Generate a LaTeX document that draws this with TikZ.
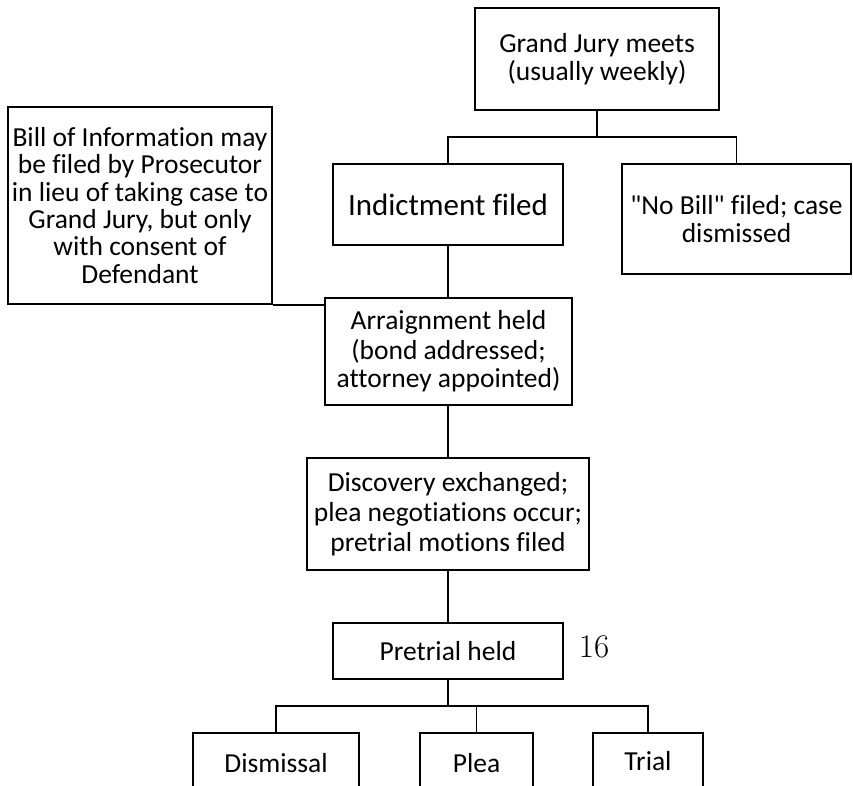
\documentclass[tikz,border=0pt]{standalone}
\usepackage{fontspec}
\newfontfamily\calib[Ligatures=CommonOff]{Carlito}
\usetikzlibrary{positioning,calc}

\begin{document}
\begin{tikzpicture}[x=1pt, y=-1pt,
  box/.style={draw, line width=1.6pt, align=center, inner sep=0pt, font=\calib\fontsize{27.5}{28}\selectfont},
  conn/.style={line width=1.6pt}]
\useasboundingbox (0,0) rectangle (853,786);
\clip (0,0) rectangle (853,786);

% Top: grand jury
\node[box, minimum width=244pt, minimum height=102pt] (gj) at (597,59) {Grand Jury meets\\(usually weekly)};

% Outcomes of grand jury
\node[box, minimum width=230pt, minimum height=81pt, font=\calib\fontsize{31}{34}\selectfont] (ind) at (448,204.5) {Indictment filed};
\node[box, minimum width=229pt, minimum height=110pt] (nobill) at (736.5,219) {"No Bill" filed; case\\dismissed};

% Side note
\node[box, minimum width=264pt, minimum height=197pt, font=\calib\fontsize{27.5}{27.3}\selectfont] (bill) at (140,205.5) {Bill of Information may\\be filed by Prosecutor\\in lieu of taking case to\\Grand Jury, but only\\with consent of\\Defendant};

% Main line
\node[box, minimum width=247pt, minimum height=107pt] (arr) at (448.5,351.5) {Arraignment held\\[2pt](bond addressed;\\attorney appointed)};
\node[box, minimum width=282pt, minimum height=112pt, font=\calib\fontsize{27.5}{30}\selectfont] (disc) at (448,514) {Discovery exchanged;\\plea negotiations occur;\\pretrial motions filed};
\node[box, minimum width=230pt, minimum height=56pt] (pre) at (448,651) {Pretrial held};
\node[font=\fontsize{33}{36}\selectfont] (pnum) at (594,647) {16};

% Bottom row
\node[box, minimum width=166pt, minimum height=60pt] (dis) at (276,763) {Dismissal};
\node[box, minimum width=113pt, minimum height=60pt] (plea) at (476.5,763) {Plea};
\node[box, minimum width=110pt, minimum height=56pt] (trial) at (648,761) {Trial};

% Connectors
\coordinate (gjfork) at (597,137);
\draw[conn] (gj.south) -- (gjfork);
\draw[conn] (ind.north) |- (gjfork) -| (nobill.north);
\draw[conn] (ind.south) -- (arr.north -| ind.south);
\draw[conn] (bill.south east) -- (bill.south east -| arr.west);
\draw[conn] (arr.south -| disc.north) -- (disc.north);
\draw[conn] (disc.south) -- (pre.north);
\coordinate (prefork) at (448,706);
\draw[conn] (pre.south) -- (prefork);
\draw[conn] (dis.north) |- (prefork) -| (trial.north);
\draw[conn] (plea.north) -- (plea.north |- prefork);
\end{tikzpicture}
\end{document}
